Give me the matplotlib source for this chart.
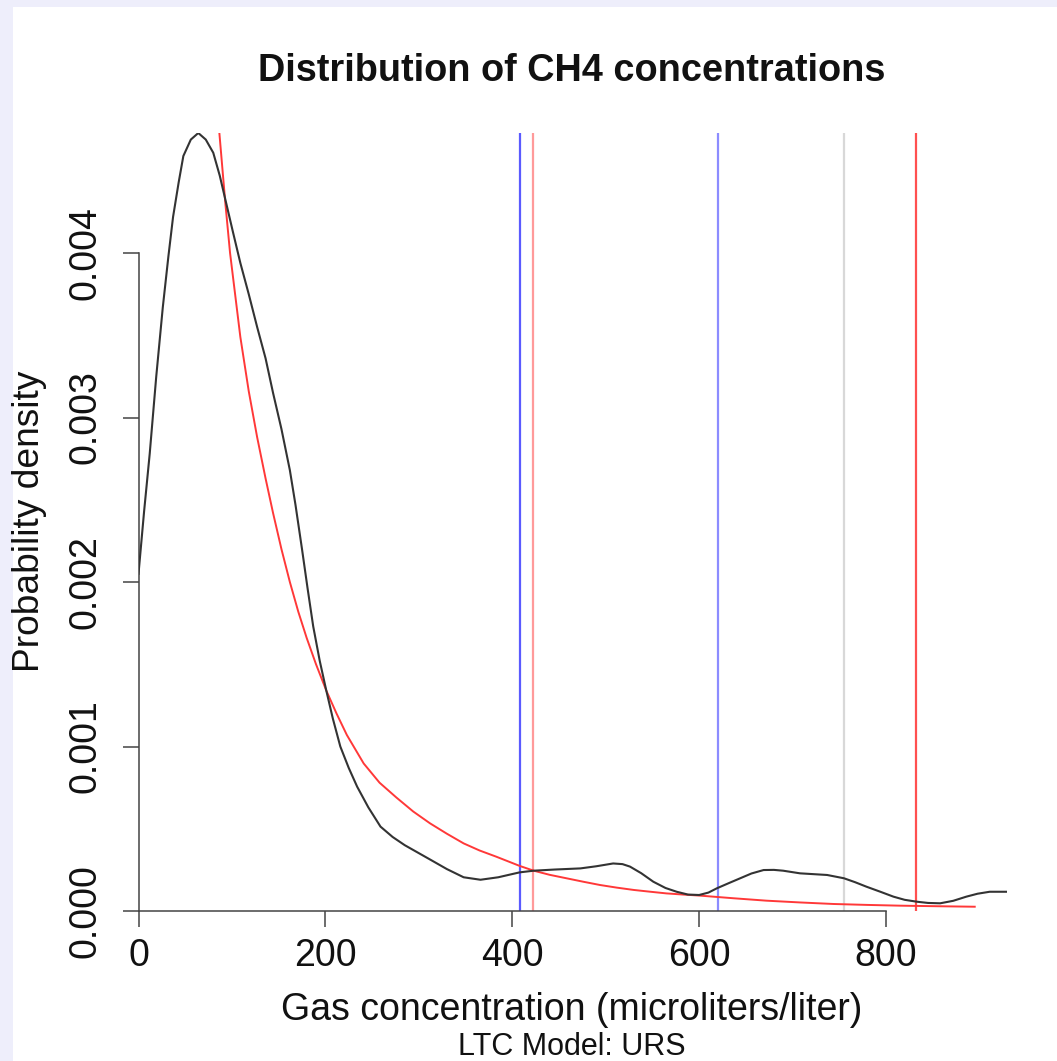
import matplotlib
matplotlib.use("Agg")
import matplotlib.pyplot as plt
from matplotlib.patches import Rectangle

plt.rcParams['font.family'] = ['Liberation Sans', 'DejaVu Sans']

# Kernel density estimate of CH4 concentrations (black)
dens_x = [0, 6, 12, 19, 26, 32, 37, 43, 48, 56, 64, 72, 80, 87, 94, 101, 109, 118, 127,
          136, 144, 153, 162, 168, 175, 181, 187, 194, 201, 208, 216, 225, 234, 246, 259,
          272, 285, 299, 313, 330, 348, 366, 385, 408, 423, 445, 473, 490, 508, 518,
          526, 538, 551, 564, 576, 588, 600, 610, 619, 632, 644, 656, 669, 680, 690,
          708, 737, 755, 767, 779, 794, 808, 820, 833, 845, 858, 872, 886, 898, 911, 929]
dens_y = [0.00205, 0.00243, 0.00278, 0.00325, 0.00367, 0.00398, 0.00422, 0.00443, 0.00459,
          0.00469, 0.00473, 0.00469, 0.00461, 0.00447, 0.00430, 0.00413, 0.00394, 0.00375,
          0.00355, 0.00336, 0.00315, 0.00293, 0.00268, 0.00247, 0.00220, 0.00196, 0.00173,
          0.00152, 0.00134, 0.00117, 0.00100, 0.00087, 0.000756, 0.000630, 0.000513,
          0.000450, 0.000400, 0.000355, 0.00031, 0.000255, 0.000205, 0.000190, 0.000205,
          0.000235, 0.000245, 0.000252, 0.000259, 0.000272, 0.000289, 0.000285, 0.000270,
          0.000230, 0.000178, 0.000140, 0.000117, 0.000100, 0.0000973, 0.000112, 0.000138,
          0.000170, 0.000199, 0.000228, 0.000249, 0.000250, 0.000245, 0.000229, 0.000219,
          0.000199, 0.000175, 0.000148, 0.000117, 0.0000872, 0.000068, 0.0000565,
          0.000049, 0.0000468, 0.000062, 0.0000872, 0.000105, 0.000117, 0.000117]

# Fitted distribution (red)
fit_x = [84, 93, 98, 109, 118, 127, 136, 144, 153, 162, 171, 180, 190, 201, 212, 223, 241,
         258, 276, 294, 312, 330, 348, 365, 383, 408, 423, 440, 458, 476, 494, 512, 530,
         548, 565, 583, 601, 637, 672, 708, 744, 780, 815, 855, 895]
fit_y = [0.00490, 0.00430, 0.00400, 0.00349, 0.00316, 0.00288, 0.00263, 0.00242, 0.00220,
         0.00200, 0.00182, 0.00166, 0.00150, 0.00134, 0.00120, 0.00107, 0.000897,
         0.000780, 0.000690, 0.000605, 0.000533, 0.000470, 0.000411, 0.000368, 0.00033,
         0.000274, 0.000245, 0.00022, 0.000199, 0.000178, 0.000158, 0.000142, 0.000128,
         0.000117, 0.000107, 0.0001, 0.0000935, 0.0000774, 0.0000628, 0.000052,
         0.0000426, 0.000037, 0.0000324, 0.000029, 0.000026]

# Reference lines
vline_x = [408, 422, 620, 755, 832]
vline_colors = ['#5a5aff', '#ff9a9a', '#8c8cff', '#d8d8d8', '#ff5050']

x_ticks = [0, 200, 400, 600, 800]
y_ticks = [0.000, 0.001, 0.002, 0.003, 0.004]
y_ticklabels = ['0.000', '0.001', '0.002', '0.003', '0.004']

W, H = 1057, 1061
fig = plt.figure(figsize=(W / 100, H / 100), dpi=100)
fig.patch.set_facecolor('#eeeefb')
fig.add_artist(Rectangle((13 / W, 0), 1, 1 - 7 / H, transform=fig.transFigure,
                         facecolor='white', edgecolor='none', zorder=0))

ax = fig.add_axes([138.5 / W, (H - 911) / H, 868 / W, 778.5 / H])
ax.set_facecolor('none')
ax.set_xlim(0, 929)
ax.set_ylim(0, 0.004733)

for xv, c in zip(vline_x, vline_colors):
    ax.axvline(xv, color=c, lw=1.6, zorder=1)
ax.plot(fit_x, fit_y, color='#ff3838', lw=1.4, zorder=2, solid_joinstyle='round')
ax.plot(dens_x, dens_y, color='#333333', lw=1.5, zorder=3, solid_joinstyle='round')

for s in ['top', 'right']:
    ax.spines[s].set_visible(False)
ax.spines['left'].set_bounds(0, 0.004)
ax.spines['bottom'].set_bounds(0, 800)
for s in ['left', 'bottom']:
    ax.spines[s].set_color('#444444')
    ax.spines[s].set_linewidth(1.1)

ax.set_xticks(x_ticks)
ax.set_xticklabels([str(v) for v in x_ticks])
ax.set_yticks(y_ticks)
ax.set_yticklabels(y_ticklabels, rotation=90, va='center')
ax.tick_params(axis='both', length=11.5, width=1.1, color='#444444', labelsize=27,
               labelcolor='#111111')
ax.tick_params(axis='x', pad=8)
ax.tick_params(axis='y', pad=14)

fig.text(572 / W, 1 - 71 / H, 'Distribution of CH4 concentrations', ha='center',
         va='center', fontsize=27.3, fontweight='bold', color='#111111')
fig.text(572 / W, 1 - 1010 / H, 'Gas concentration (microliters/liter)', ha='center',
         va='center', fontsize=27, color='#111111')
fig.text(572 / W, 1 - 1047 / H, 'LTC Model: URS', ha='center', va='center',
         fontsize=22, color='#111111')
fig.text(30 / W, 1 - 521 / H, 'Probability density', ha='center', va='center',
         rotation=90, fontsize=26.7, color='#111111')

fig.savefig('out.png', dpi=100)
